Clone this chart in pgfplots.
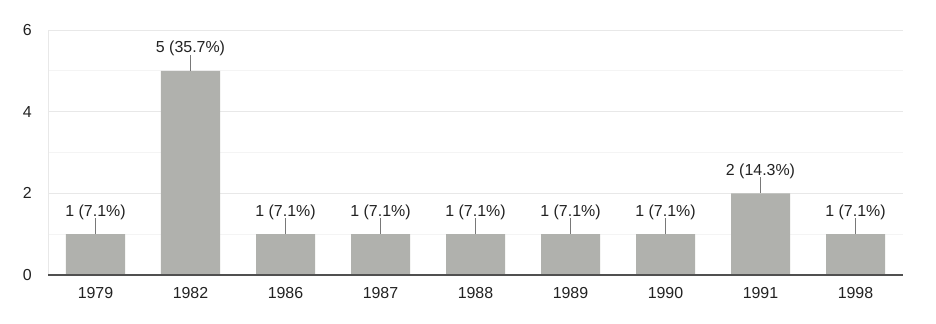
\documentclass[border=0pt]{standalone}
\usepackage{pgfplots}
\pgfplotsset{compat=1.18}
\usepackage{fontspec}
\setmainfont{Liberation Sans}
\definecolor{barc}{RGB}{176,177,173}
\definecolor{gridmaj}{RGB}{232,232,232}
\definecolor{gridmin}{RGB}{244,244,244}
\definecolor{txt}{RGB}{34,34,34}
\definecolor{axisc}{RGB}{80,80,80}
\definecolor{linec}{RGB}{120,120,120}
\begin{document}
\begin{tikzpicture}
\fill[white] (0,0) rectangle (936bp,324bp);
\useasboundingbox (0,0) rectangle (936bp,324bp);
\begin{axis}[
  at={(48bp,49bp)}, anchor=south west,
  scale only axis, width=855bp, height=245bp,
  xmin=-0.5, xmax=8.5, ymin=0, ymax=6,
  xtick={0,1,2,3,4,5,6,7,8},
  xticklabels={1979,1982,1986,1987,1988,1989,1990,1991,1998},
  ytick={0,2,4,6}, minor ytick={1,3,5},
  ymajorgrids, yminorgrids,
  major grid style={draw=gridmaj, line width=1bp},
  minor grid style={draw=gridmin, line width=1bp},
  axis x line*=bottom, axis y line*=left,
  x axis line style={-, draw=axisc, line width=1.5bp},
  y axis line style={-, draw=gridmaj, line width=1bp},
  major tick length=0pt, minor tick length=0pt,
  tick style={draw=none},
  /pgf/number format/assume math mode=true,
  tick label style={font=\fontsize{16}{19}\selectfont, text=txt, inner sep=0pt},
  xticklabel style={anchor=north, yshift=-12bp},
  yticklabel style={anchor=east, xshift=-16bp},
  clip=false,
]
\addplot[ybar, bar width=59bp, fill=barc, draw=none,
  point meta=explicit symbolic,
  nodes near coords,
  every node near coord/.style={font=\fontsize{16}{19}\selectfont, text=txt, anchor=base, inner sep=0pt, yshift=18bp}]
coordinates {
(0,1) [1 (7.1\%)]
(1,5) [5 (35.7\%)]
(2,1) [1 (7.1\%)]
(3,1) [1 (7.1\%)]
(4,1) [1 (7.1\%)]
(5,1) [1 (7.1\%)]
(6,1) [1 (7.1\%)]
(7,2) [2 (14.3\%)]
(8,1) [1 (7.1\%)]
};
\addplot[draw=none, mark=none, forget plot,
  error bars/.cd, y dir=plus, y fixed=0.39, error mark=none,
  error bar style={draw=linec, solid, line width=1bp}]
coordinates {(0,1) (1,5) (2,1) (3,1) (4,1) (5,1) (6,1) (7,2) (8,1)};
\draw[axisc, line width=1.5bp] (axis cs:-0.5,0) -- (axis cs:8.5,0);
\end{axis}
\end{tikzpicture}
\end{document}
